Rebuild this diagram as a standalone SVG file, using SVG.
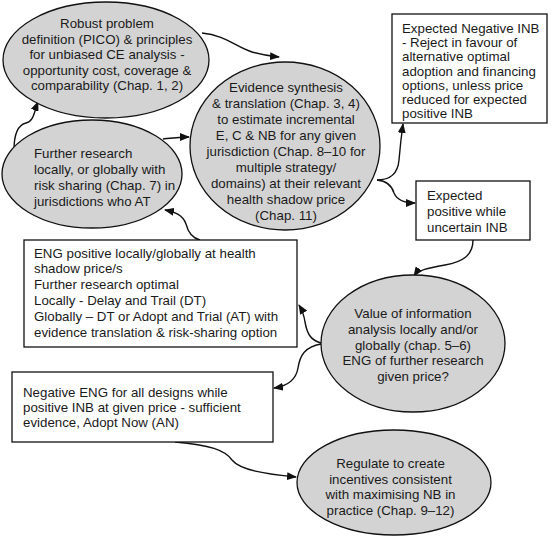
<svg xmlns="http://www.w3.org/2000/svg" width="555" height="537" viewBox="0 0 555 537">
<style>
.n{fill:#d3d3d3;stroke:#111;stroke-width:1.3}
.b{fill:#fff;stroke:#111;stroke-width:1.3}
text{font-family:"Liberation Sans",Arial,sans-serif;font-size:13.3px;fill:#1a1a1a}
.c{text-anchor:middle}
.e{fill:none;stroke:#111;stroke-width:1.4;marker-end:url(#ah)}
</style>
<defs>
<marker id="ah" viewBox="0 0 10 8" refX="9" refY="4" markerWidth="10" markerHeight="8" markerUnits="userSpaceOnUse" orient="auto">
<path d="M0,0 L10,4 L0,8 Z" fill="#111"/>
</marker>
</defs>
<rect width="555" height="537" fill="#fff"/>
<g id="connectors">
<path class="e" d="M202,33 C225,35 236,47 252,52 C262,55 268,56 279,57"/>
<path class="e" d="M14,150 C14,135 18,125 26,123 C34,121 34,112 38,102"/>
<path class="e" d="M163,139 C172,138 179,137 189,137"/>
<path class="e" d="M377,180 C392,180 398,172 399,160 C400,148 401,138 403,124"/>
<path class="e" d="M377,180 C388,181 392,186 394,193 C397,200 404,203 415,203"/>
<path class="e" d="M473,240 C473,255 463,262 445,265 C428,268 418,270 414,276"/>
<path class="e" d="M321,343 C310,340 307,333 305,322 C304,315 302,310 299,305"/>
<path class="e" d="M200,240 C192,238 188,232 186,224 C183,215 175,212 165,210"/>
<path class="e" d="M321,344 C305,347 300,355 298,368 C296,380 288,386 274,388"/>
<path class="e" d="M175,442 C210,445 225,450 232,460 C240,470 265,474 296,477"/>
</g>
<g id="n1">
<ellipse class="n" cx="106" cy="60" rx="103" ry="58"/>
<text class="c" x="107" y="28">Robust problem</text>
<text class="c" x="107" y="43.5">definition (PICO) &amp; principles</text>
<text class="c" x="107" y="59">for unbiased CE analysis -</text>
<text class="c" x="107" y="74.5">opportunity cost, coverage &amp;</text>
<text class="c" x="107" y="90">comparability (Chap. 1, 2)</text>
</g>
<g id="n2">
<ellipse class="n" cx="285" cy="146" rx="95" ry="84"/>
<text class="c" x="286" y="92">Evidence synthesis</text>
<text class="c" x="286" y="108">&amp; translation (Chap. 3, 4)</text>
<text class="c" x="286" y="124">to estimate incremental</text>
<text class="c" x="286" y="140">E, C &amp; NB for any given</text>
<text class="c" x="286" y="156">jurisdiction (Chap. 8–10 for</text>
<text class="c" x="286" y="172">multiple strategy/</text>
<text class="c" x="286" y="188">domains) at their relevant</text>
<text class="c" x="286" y="204">health shadow price</text>
<text class="c" x="286" y="220">(Chap. 11)</text>
</g>
<g id="n3">
<ellipse class="n" cx="92" cy="174" rx="90" ry="54"/>
<text x="34" y="158">Further research</text>
<text x="34" y="174">locally, or globally with</text>
<text x="34" y="190">risk sharing (Chap. 7) in</text>
<text x="34" y="206">jurisdictions who AT</text>
</g>
<g id="n4">
<rect class="b" x="392" y="14" width="155" height="109"/>
<text x="402" y="33">Expected Negative INB</text>
<text x="402" y="47.2">- Reject in favour of</text>
<text x="402" y="61.4">alternative optimal</text>
<text x="402" y="75.6">adoption and financing</text>
<text x="402" y="89.8">options, unless price</text>
<text x="402" y="104">reduced for expected</text>
<text x="402" y="118.2">positive INB</text>
</g>
<g id="n5">
<rect class="b" x="416" y="181" width="114" height="59"/>
<text x="427" y="200">Expected</text>
<text x="427" y="216">positive while</text>
<text x="427" y="232">uncertain INB</text>
</g>
<g id="n6">
<rect class="b" x="24" y="240" width="273" height="107"/>
<text x="34" y="257.5">ENG positive locally/globally at health</text>
<text x="34" y="273.3">shadow price/s</text>
<text x="34" y="289.1">Further research optimal</text>
<text x="34" y="304.9">Locally - Delay and Trail (DT)</text>
<text x="34" y="320.7">Globally – DT or Adopt and Trial (AT) with</text>
<text x="34" y="336.5">evidence translation &amp; risk-sharing option</text>
</g>
<g id="n7">
<ellipse class="n" cx="413" cy="343.5" rx="92" ry="68.5"/>
<text class="c" x="413" y="318">Value of information</text>
<text class="c" x="413" y="333.8">analysis locally and/or</text>
<text class="c" x="413" y="349.6">globally (chap. 5–6)</text>
<text class="c" x="413" y="365.4">ENG of further research</text>
<text class="c" x="413" y="381.2">given price?</text>
</g>
<g id="n8">
<rect class="b" x="12" y="372" width="261" height="70"/>
<text x="23" y="397">Negative ENG for all designs while</text>
<text x="23" y="412">positive INB at given price - sufficient</text>
<text x="23" y="427">evidence, Adopt Now (AN)</text>
</g>
<g id="n9">
<ellipse class="n" cx="394" cy="482.5" rx="97" ry="52.5"/>
<text class="c" x="390.5" y="468">Regulate to create</text>
<text class="c" x="390.5" y="483.5">incentives consistent</text>
<text class="c" x="390.5" y="499">with maximising NB in</text>
<text class="c" x="390.5" y="514.5">practice (Chap. 9–12)</text>
</g>
</svg>
